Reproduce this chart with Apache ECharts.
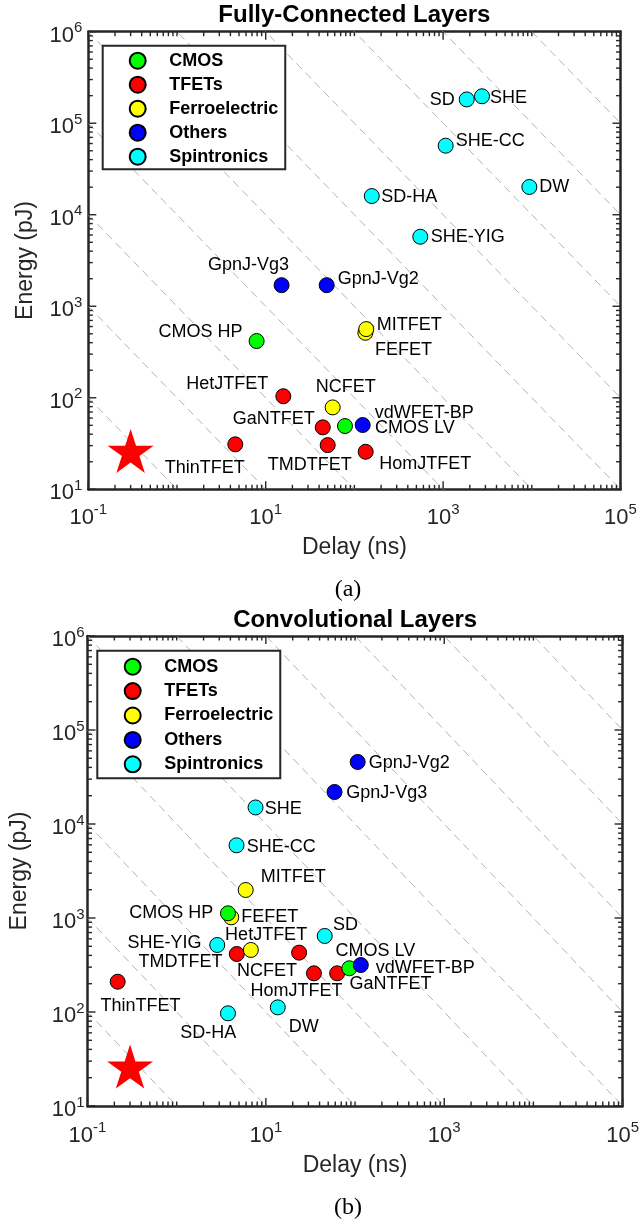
<!DOCTYPE html>
<html>
<head>
<meta charset="utf-8">
<title>Energy vs Delay</title>
<script src="https://cdn.jsdelivr.net/npm/echarts@6/dist/echarts.min.js"></script>
<style>
  html, body { margin: 0; padding: 0; background: #fff; }
  #main { width: 642px; height: 1221px; }
</style>
</head>
<body>
<div id="main"></div>
<script>
// 配置
const FONT = 'Liberation Sans, Arial, Helvetica, sans-serif'
const SERIF = 'Liberation Serif, Times New Roman, serif'
const AXIS_COLOR = '#262626'

// 分组(图例顺序)
const groupNames = ['CMOS', 'TFETs', 'Ferroelectric', 'Others', 'Spintronics']
const groupColors = ['#00ff00', '#ff0000', '#ffff00', '#0000ff', '#00ffff']
// 绘制先后
const drawOrder = ['TFETs', 'Ferroelectric', 'CMOS', 'Others', 'Spintronics']

// (a) Fully-Connected Layers
const fcDevices = ['SD', 'SHE', 'SHE-CC', 'DW', 'SD-HA', 'SHE-YIG', 'GpnJ-Vg3', 'GpnJ-Vg2', 'vdWFET-BP',
  'CMOS HP', 'CMOS LV', 'FEFET', 'MITFET', 'NCFET', 'HetJTFET', 'GaNTFET', 'ThinTFET', 'TMDTFET', 'HomJTFET']
const fcGroup = ['Spintronics', 'Spintronics', 'Spintronics', 'Spintronics', 'Spintronics', 'Spintronics',
  'Others', 'Others', 'Others', 'CMOS', 'CMOS', 'Ferroelectric', 'Ferroelectric', 'Ferroelectric',
  'TFETs', 'TFETs', 'TFETs', 'TFETs', 'TFETs']
const fcDelay = [1845, 2745, 1069, 9380, 157, 553, 15.1, 48.7, 124, 7.9, 78.3, 133, 136, 56.9, 15.8, 44, 4.54, 50, 134]
const fcEnergy = [1.82e5, 1.97e5, 5.68e4, 2.01e4, 1.6e4, 5750, 1700, 1700, 50.4, 417, 49.1, 513, 563, 78.5, 104, 47.5, 31, 30.4, 25.7]

// (b) Convolutional Layers
const convDevices = ['GpnJ-Vg2', 'GpnJ-Vg3', 'vdWFET-BP', 'SHE', 'SHE-CC', 'SD', 'SHE-YIG', 'SD-HA', 'DW',
  'MITFET', 'FEFET', 'NCFET', 'CMOS HP', 'CMOS LV', 'HetJTFET', 'HomJTFET', 'GaNTFET', 'ThinTFET', 'TMDTFET']
const convGroup = ['Others', 'Others', 'Others', 'Spintronics', 'Spintronics', 'Spintronics', 'Spintronics',
  'Spintronics', 'Spintronics', 'Ferroelectric', 'Ferroelectric', 'Ferroelectric', 'CMOS', 'CMOS',
  'TFETs', 'TFETs', 'TFETs', 'TFETs', 'TFETs']
const convDelay = [107, 58.9, 116, 7.66, 4.69, 45.7, 2.85, 3.76, 13.6, 5.94, 4.09, 6.79, 3.76, 86.3, 23.6, 34.6, 63, 0.218, 4.72]
const convEnergy = [45700, 21900, 316, 15000, 5935, 644, 516, 96.8, 112, 1986, 1016, 457, 1122, 292, 428, 258, 258, 210, 414]

// 目标点(红星)
const targetDelay = [0.3]
const targetEnergy = [25]

// 等 EDP 虚线 (pJ*ns)
const edpLevels = [1e1, 1e2, 1e3, 1e4, 1e5, 1e6, 1e7, 1e8, 1e9, 1e10]

// 坐标轴范围(指数)
const xExp = [-1, 5]
const yExp = [1, 6]

// 标注位置 [对齐, dx, dy],相对点中心
const fcLabelPos = {
  'SD': ['right', -12, 0.5],
  'SHE': ['left', 8, 1.5],
  'SHE-CC': ['left', 10, -5],
  'DW': ['left', 10, 0.5],
  'SD-HA': ['left', 9.5, 0.5],
  'SHE-YIG': ['left', 10.5, 0],
  'GpnJ-Vg3': ['center', -33, -20],
  'GpnJ-Vg2': ['left', 11, -6],
  'vdWFET-BP': ['left', 12, -12],
  'CMOS HP': ['right', -14, -8.5],
  'CMOS LV': ['left', 30, 2],
  'FEFET': ['left', 9.5, 17],
  'MITFET': ['left', 10.5, -4.5],
  'NCFET': ['center', 13, -20],
  'HetJTFET': ['right', -15, -12],
  'GaNTFET': ['right', -8, -8],
  'ThinTFET': ['center', -30.5, 24],
  'TMDTFET': ['center', -18, 20],
  'HomJTFET': ['left', 13.5, 12]
}
const convLabelPos = {
  'GpnJ-Vg2': ['left', 11, 0.7],
  'GpnJ-Vg3': ['left', 11.7, 0.7],
  'vdWFET-BP': ['left', 15, 3.3],
  'SHE': ['left', 9.3, 1.7],
  'SHE-CC': ['left', 10.3, 1.4],
  'SD': ['left', 8.4, -11],
  'SHE-YIG': ['right', -15.7, -1.7],
  'SD-HA': ['center', -19.7, 19.4],
  'DW': ['center', 26, 20],
  'MITFET': ['left', 15, -13.3],
  'FEFET': ['left', 10, 0],
  'NCFET': ['center', 16.2, 20.7],
  'CMOS HP': ['right', -14.7, -0.6],
  'CMOS LV': ['center', 26, -17.6],
  'HetJTFET': ['center', -33, -17.7],
  'HomJTFET': ['center', -17.4, 17.4],
  'GaNTFET': ['left', 12.3, 10.7],
  'ThinTFET': ['center', 22.7, 24.3],
  'TMDTFET': ['right', -14.3, 7.7]
}

const STAR = 'path://M0,-1L0.2245,-0.309L0.951,-0.309L0.363,0.118L0.588,0.809L0,0.382L-0.588,0.809L-0.363,0.118L-0.951,-0.309L-0.2245,-0.309Z'

const panels = [
  {
    names: fcDevices, groups: fcGroup, delay: fcDelay, energy: fcEnergy, labelPos: fcLabelPos,
    title: 'Fully-Connected Layers', caption: '(a)', titleTop: 3, captionTop: 578,
    grid: { left: 88.3, top: 31.7, width: 532.2, height: 457.6 },
    legend: { left: 102.7, top: 45.7, padding: [6, 7, 3.6, 26], itemGap: 6 },
    xLabelMargin: 13.5, yLabelMargin: 6, xNameGap: 47, yNameGap: 51.5
  },
  {
    names: convDevices, groups: convGroup, delay: convDelay, energy: convEnergy, labelPos: convLabelPos,
    title: 'Convolutional Layers', caption: '(b)', titleTop: 608, captionTop: 1196,
    grid: { left: 83.3, top: 636, width: 543.7, height: 470 },
    legend: { left: 97.3, top: 650.7, padding: [7, 7, 5, 26.4], itemGap: 6.4 },
    xLabelMargin: 14.5, yLabelMargin: 3, xNameGap: 48.5, yNameGap: 56.5
  }
]

const xMin = Math.pow(10, xExp[0]), xMax = Math.pow(10, xExp[1])
const yMin = Math.pow(10, yExp[0]), yMax = Math.pow(10, yExp[1])

const supRich = {
  b: { fontSize: 22, lineHeight: 30, color: AXIS_COLOR, fontFamily: FONT },
  s: { fontSize: 15, lineHeight: 15, verticalAlign: 'top', color: AXIS_COLOR, fontFamily: FONT }
}

function expLabel(v, onlyOdd) {
  const e = Math.round(Math.log10(v))
  if (onlyOdd && e % 2 === 0) return ''
  return '{b|10}{s|' + e + '}'
}

// 四边的刻度: [x, y, 边, 主刻度]
function tickData() {
  const data = []
  for (let k = xExp[0]; k <= xExp[1]; k++) {
    for (let m = 1; m < 10; m++) {
      if (k === xExp[1] && m > 1) break
      const v = m * Math.pow(10, k)
      const major = m === 1 && k % 2 !== 0 ? 1 : 0
      data.push([v, yMin, 0, major], [v, yMax, 1, major])
    }
  }
  for (let k = yExp[0]; k <= yExp[1]; k++) {
    for (let m = 1; m < 10; m++) {
      if (k === yExp[1] && m > 1) break
      const v = m * Math.pow(10, k)
      const major = m === 1 ? 1 : 0
      data.push([xMin, v, 2, major], [xMax, v, 3, major])
    }
  }
  return data
}

const option = {
  animation: false,
  textStyle: { fontFamily: FONT },
  title: [], legend: [], grid: [], xAxis: [], yAxis: [], series: []
}

panels.forEach((p, g) => {
  option.grid.push(Object.assign({}, p.grid))

  option.title.push({
    text: p.title, left: p.grid.left + p.grid.width / 2, top: p.titleTop, textAlign: 'center', padding: 0,
    textStyle: { fontSize: 24, fontWeight: 'bold', color: '#000', fontFamily: FONT }
  })
  option.title.push({
    text: p.caption, left: 348, top: p.captionTop, textAlign: 'center', padding: 0,
    textStyle: { fontSize: 24, fontWeight: 'normal', color: '#000', fontFamily: SERIF }
  })

  option.legend.push({
    data: groupNames.map(n => ({ name: n, icon: 'circle' })),
    orient: 'vertical', left: p.legend.left, top: p.legend.top,
    padding: p.legend.padding, itemGap: p.legend.itemGap, itemWidth: 16, itemHeight: 16,
    backgroundColor: '#fff', borderColor: AXIS_COLOR, borderWidth: 2, borderRadius: 0,
    selectedMode: false, z: 10,
    textStyle: { fontSize: 18, fontWeight: 'bold', color: '#000', fontFamily: FONT, padding: [0, 0, 0, 18.5] }
  })

  const axisLine = { show: true, onZero: false, lineStyle: { color: AXIS_COLOR, width: 2.5 } }
  const xBase = { type: 'log', logBase: 10, min: xMin, max: xMax, gridIndex: g, axisLine, axisTick: { show: false }, splitLine: { show: false } }
  const yBase = { type: 'log', logBase: 10, min: yMin, max: yMax, gridIndex: g, axisLine, axisTick: { show: false }, splitLine: { show: false } }

  option.xAxis.push(Object.assign({}, xBase, {
    position: 'bottom',
    name: 'Delay (ns)', nameLocation: 'middle', nameGap: p.xNameGap,
    nameTextStyle: { fontSize: 23, color: AXIS_COLOR, fontFamily: FONT },
    axisLabel: { margin: p.xLabelMargin, formatter: v => expLabel(v, true), rich: supRich }
  }))
  option.xAxis.push(Object.assign({}, xBase, { position: 'top', axisLabel: { show: false } }))
  option.yAxis.push(Object.assign({}, yBase, {
    position: 'left',
    name: 'Energy (pJ)', nameLocation: 'middle', nameGap: p.yNameGap,
    nameTextStyle: { fontSize: 23, color: AXIS_COLOR, fontFamily: FONT },
    axisLabel: { margin: p.yLabelMargin, padding: [8, 0, 0, 0], formatter: v => expLabel(v, false), rich: supRich }
  }))
  option.yAxis.push(Object.assign({}, yBase, { position: 'right', axisLabel: { show: false } }))

  const xi = 2 * g, yi = 2 * g

  // 等 EDP 虚线
  edpLevels.forEach(c => {
    option.series.push({
      type: 'line', name: 'edp', xAxisIndex: xi, yAxisIndex: yi,
      data: [[xMin, c / xMin], [xMax, c / xMax]],
      symbol: 'none', clip: true, silent: true, z: 1,
      lineStyle: { color: '#b3b3b3', width: 1, type: [8, 5] }
    })
  })

  // 刻度
  option.series.push({
    type: 'custom', name: 'ticks', xAxisIndex: xi, yAxisIndex: yi, silent: true, z: 3,
    data: tickData(),
    renderItem(params, api) {
      const side = api.value(2)
      const len = api.value(3) ? 8 : 4.5
      const pt = api.coord([api.value(0), api.value(1)])
      const d = [[0, -len], [0, len], [len, 0], [-len, 0]][side]
      return {
        type: 'line',
        shape: { x1: pt[0], y1: pt[1], x2: pt[0] + d[0], y2: pt[1] + d[1] },
        style: { stroke: AXIS_COLOR, lineWidth: 1.4 }
      }
    }
  })

  // 器件散点
  drawOrder.forEach(grp => {
    const data = []
    p.names.forEach((n, i) => {
      if (p.groups[i] !== grp) return
      const lp = p.labelPos[n]
      data.push({ name: n, value: [p.delay[i], p.energy[i]], label: { align: lp[0], offset: [lp[1], lp[2]] } })
    })
    option.series.push({
      type: 'scatter', name: grp, xAxisIndex: xi, yAxisIndex: yi, data,
      symbol: 'circle', symbolSize: 15, z: 5,
      itemStyle: { color: groupColors[groupNames.indexOf(grp)], borderColor: '#000', borderWidth: 1, opacity: 1 },
      label: { show: true, position: 'inside', formatter: '{b}', verticalAlign: 'middle', fontSize: 18, color: '#000', fontFamily: FONT },
      emphasis: { disabled: true }
    })
  })

  // 目标
  option.series.push({
    type: 'scatter', name: 'target', xAxisIndex: xi, yAxisIndex: yi,
    data: targetDelay.map((d, i) => [d, targetEnergy[i]]),
    symbol: STAR, symbolSize: [46, 44], symbolOffset: [0, -2], z: 4, silent: true,
    itemStyle: { color: '#ff0000', opacity: 1 }
  })
})

const chart = echarts.init(document.getElementById('main'), null, { renderer: 'canvas', width: 642, height: 1221 })
chart.setOption(option)
</script>
</body>
</html>
